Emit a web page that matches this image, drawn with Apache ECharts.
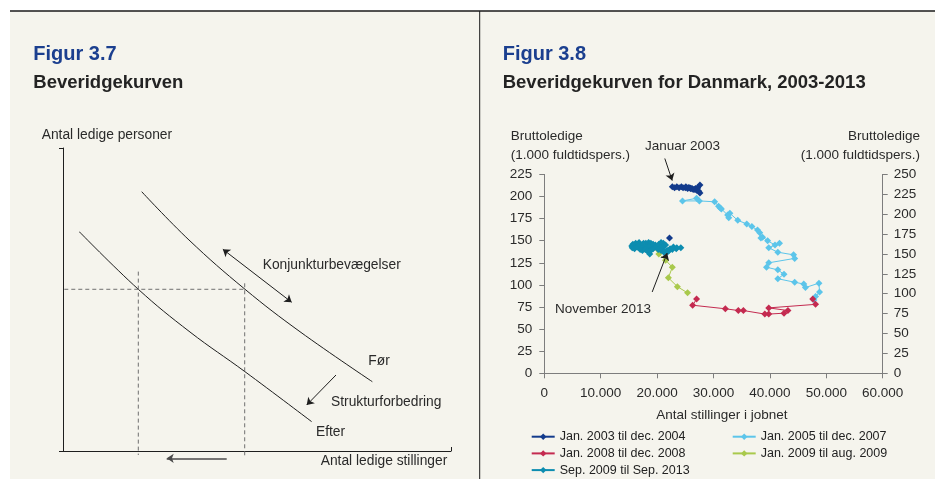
<!DOCTYPE html>
<html><head><meta charset="utf-8">
<script src="https://cdn.jsdelivr.net/npm/echarts@6/dist/echarts.min.js"></script>
<style>html,body{margin:0;padding:0;background:#fff}#c{width:935px;height:479px}</style>
</head><body><div id="c"></div>
<script>
// ---------- Figur 3.8 data (x: Antal stillinger i jobnet, y: Bruttoledige 1.000) ----------
const seriesNames = ['Jan. 2003 til dec. 2004','Jan. 2005 til dec. 2007','Jan. 2008 til dec. 2008','Jan. 2009 til aug. 2009','Sep. 2009 til Sep. 2013'];
const seriesColors = ['#133b8c','#5cc5ea','#c42a50','#a9c94c','#0d8db0'];
const xTicks = [0,10000,20000,30000,40000,50000,60000];
const leftTicks = [0,25,50,75,100,125,150,175,200,225];
const rightTicks = [0,25,50,75,100,125,150,175,200,225,250];

const s2003_2004 = [[22700,211],[23100,210],[23500,211],[23900,210],[24300,211],[24600,210],[25000,210],[25400,209],[25800,210],[26200,209],[25900,209],[25500,210],[25100,211],[25600,210],[26000,209],[26400,208],[26800,209],[27200,210],[27600,213],[27100,209],[26700,208],[27000,207],[27400,206],[27600,204]];
const s2005_2007 = [[27000,198],[24500,195],[27500,195],[30200,194],[30900,189],[31200,187],[31400,186],[32500,179],[32700,176],[32900,181],[34300,173],[35900,169],[36800,166],[37800,162],[38200,159],[38700,154],[38400,153],[39600,150],[40900,145],[41700,147],[39800,142],[41400,137],[44200,134],[44400,130],[39800,125],[39400,120],[41400,117],[42500,112],[41400,107],[44400,103],[46000,101],[46300,97],[48700,102],[48800,92],[48100,87],[47800,83]];
const s2008 = [[47600,84],[48100,78],[39800,74],[43200,71],[42500,68],[39800,67],[39100,67],[35300,71],[34400,71],[32100,73],[26300,77],[27000,84]];
const s2009 = [[25400,91],[23600,98],[22000,108],[22700,120],[21500,128],[20300,135],[19400,142],[18500,146]];
const s2009_2013 = [[18500,146],[17600,147],[16800,148],[16200,147],[15700,146],[15500,144],[15600,142],[16000,141],[16500,143],[17000,145],[17500,146],[18000,147],[18500,148],[18900,147],[19300,146],[19700,145],[19200,144],[18600,143],[18000,142],[17400,141],[17000,140],[17400,139],[17900,140],[18300,138],[18700,135],[18900,139],[19300,141],[19800,143],[20300,146],[20700,148],[21100,147],[21500,145],[21000,143],[20600,142],[20200,140],[20700,139],[21300,138],[21800,139],[22300,141],[22900,143],[23500,142],[24200,142],[23400,141],[22700,140],[22100,139],[21600,138],[21200,137],[21700,137],[22000,138]];
const extraPoint = [[22200,153]];
const arrowJanuar = [[21365,243],[22680,218]];
const arrowNovember = [[19130,92],[21790,136]];

// ---------- Figur 3.7 schematic (units 0-100) ----------
const curveFor = [[20.28,85.58],[32.47,69.64],[46.91,53.37],[61.08,39.37],[79.72,22.87]];
const curveEfter = [[4.2,72.38],[19.41,53.37],[32.73,39.27],[46.91,26.17],[64.1,9.67]];
const dashH = [[-1.47,53.37],[46.91,53.37]];
const dashV1 = [[19.41,59.2],[19.41,-1.32]];
const dashV2 = [[46.83,55.35],[46.83,-2.41]];
const arrowKonj = [[41.2,66.57],[58.94,49.08]];
const arrowStruktur = [[70.36,25.08],[62.81,15.18]];
const arrowBottom = [[42.19,-2.41],[26.73,-2.41]];

const FF = '"Liberation Sans", Arial, Helvetica, sans-serif';
const fmt = v => v === 0 ? '0' : String(v).replace(/\B(?=(\d{3})+(?!\d))/g, '.');

function txt(x, y, s, opt) {
  return Object.assign({type:'text', left:null, x:x, y:y, silent:true,
    style:Object.assign({text:s, fill:'#2a2a2a', font:'13.5px ' + FF, textVerticalAlign:'middle', textAlign:'left'}, opt||{})});
}

const chart = echarts.init(document.getElementById('c'), null, {renderer:'canvas'});

const seriesData = [s2003_2004, s2005_2007, s2008, s2009, s2009_2013];
const mainSeries = seriesData.map((d, i) => ({
  name: seriesNames[i], type:'line', xAxisIndex:1, yAxisIndex:1, data:d,
  symbol:'diamond', symbolSize:7, showSymbol:true, clip:false,
  lineStyle:{color:seriesColors[i], width:1}, itemStyle:{color:seriesColors[i]}, z:3 + i
}));

function schemLine(data, dashed, extra) {
  return Object.assign({type:'line', xAxisIndex:0, yAxisIndex:0, data:data, symbol:'none', clip:false, silent:true,
    lineStyle:{color: dashed ? '#6f6f6f' : '#1e1e1e', width:1, type: dashed ? [4,3] : 'solid'}}, extra||{});
}
function arrow(coords, sym, axisIdx, color, width) {
  return {type:'lines', coordinateSystem:'cartesian2d', xAxisIndex:axisIdx, yAxisIndex:axisIdx, clip:false, silent:true,
    symbol:sym, symbolSize:7, lineStyle:{color:color, width:width, opacity:1, curveness:0},
    data:[{coords:coords}], z:10};
}

chart.setOption({
  animation:false,
  backgroundColor:'#ffffff',
  textStyle:{fontFamily:FF},
  grid:[
    {left:63, top:148, width:388, height:303},
    {left:544.3, right:52.3, top:174.4, bottom:105.7}
  ],
  xAxis:[
    {gridIndex:0, type:'value', min:0, max:100, interval:100,
      axisLine:{show:true, onZero:false, lineStyle:{color:'#1e1e1e', width:1}},
      axisTick:{show:true, inside:true, length:4, lineStyle:{color:'#1e1e1e'}},
      axisLabel:{show:false}, splitLine:{show:false}},
    {gridIndex:1, type:'value', min:xTicks[0], max:xTicks[xTicks.length-1], interval:xTicks[1]-xTicks[0],
      axisLine:{show:true, onZero:false, lineStyle:{color:'#7d7d7d', width:1}},
      axisTick:{show:true, length:5, lineStyle:{color:'#7d7d7d'}},
      axisLabel:{show:true, color:'#2a2a2a', fontSize:13.5, fontFamily:FF, margin:13, formatter:fmt, showMinLabel:true, showMaxLabel:true},
      splitLine:{show:false}}
  ],
  yAxis:[
    {gridIndex:0, type:'value', min:0, max:100, interval:100,
      axisLine:{show:true, onZero:false, lineStyle:{color:'#1e1e1e', width:1}},
      axisTick:{show:true, inside:false, length:4, lineStyle:{color:'#1e1e1e'}},
      axisLabel:{show:false}, splitLine:{show:false}},
    {gridIndex:1, type:'value', position:'left', min:leftTicks[0], max:leftTicks[leftTicks.length-1], interval:leftTicks[1]-leftTicks[0],
      axisLine:{show:true, onZero:false, lineStyle:{color:'#7d7d7d', width:1}},
      axisTick:{show:true, length:5, lineStyle:{color:'#7d7d7d'}},
      axisLabel:{color:'#2a2a2a', fontSize:13.5, fontFamily:FF, margin:12},
      splitLine:{show:false}},
    {gridIndex:1, type:'value', position:'right', min:rightTicks[0], max:rightTicks[rightTicks.length-1], interval:rightTicks[1]-rightTicks[0],
      axisLine:{show:true, onZero:false, lineStyle:{color:'#7d7d7d', width:1}},
      axisTick:{show:true, length:5, lineStyle:{color:'#7d7d7d'}},
      axisLabel:{color:'#2a2a2a', fontSize:13.5, fontFamily:FF, margin:11},
      splitLine:{show:false}}
  ],
  legend:[
    {data:[seriesNames[0], seriesNames[2], seriesNames[4]], orient:'vertical', left:530.7, top:429.7,
      itemWidth:23, itemHeight:8, itemGap:2.7, selectedMode:false, padding:0,
      textStyle:{fontSize:12.5, color:'#222', fontFamily:FF, lineHeight:14}},
    {data:[seriesNames[1], seriesNames[3]], orient:'vertical', left:731.7, top:429.7,
      itemWidth:23, itemHeight:8, itemGap:2.7, selectedMode:false, padding:0,
      textStyle:{fontSize:12.5, color:'#222', fontFamily:FF, lineHeight:14}}
  ],
  graphic:[
    {type:'rect', shape:{x:10, y:11, width:925, height:468}, style:{fill:'#f5f4ed'}, silent:true, z:-10},
    {type:'line', shape:{x1:10, y1:11, x2:935, y2:11}, style:{stroke:'#1a1a1a', lineWidth:1.5}, silent:true},
    {type:'line', shape:{x1:479.7, y1:11, x2:479.7, y2:479}, style:{stroke:'#1a1a1a', lineWidth:1}, silent:true},
    txt(33.3, 54.5, 'Figur 3.7', {fill:'#1b3f8f', font:'bold 20px ' + FF}),
    txt(33.3, 82.7, 'Beveridgekurven', {fill:'#232323', font:'bold 18.5px ' + FF}),
    txt(502.7, 54.5, 'Figur 3.8', {fill:'#1b3f8f', font:'bold 20px ' + FF}),
    txt(502.7, 82.7, 'Beveridgekurven for Danmark, 2003-2013', {fill:'#232323', font:'bold 18.5px ' + FF}),
    txt(41.7, 135.5, 'Antal ledige personer', {font:'13.8px ' + FF}),
    txt(262.7, 264.7, 'Konjunkturbevægelser', {font:'13.8px ' + FF}),
    txt(368.3, 361.3, 'Før', {font:'13.8px ' + FF}),
    txt(331, 402, 'Strukturforbedring', {font:'13.8px ' + FF}),
    txt(316, 432, 'Efter', {font:'13.8px ' + FF}),
    txt(320.7, 461, 'Antal ledige stillinger', {font:'13.8px ' + FF}),
    txt(510.7, 136.3, 'Bruttoledige'),
    txt(510.7, 155.3, '(1.000 fuldtidspers.)'),
    txt(920, 136.3, 'Bruttoledige', {textAlign:'right'}),
    txt(920, 155.3, '(1.000 fuldtidspers.)', {textAlign:'right'}),
    txt(645, 146, 'Januar 2003'),
    txt(555, 309.3, 'November 2013'),
    txt(721.8, 415, 'Antal stillinger i jobnet', {textAlign:'center'})
  ],
  series:[
    schemLine(curveFor, false, {smooth:0.4}),
    schemLine(curveEfter, false, {smooth:0.4}),
    schemLine(dashH, true),
    schemLine(dashV1, true),
    schemLine(dashV2, true),
    arrow(arrowKonj, ['arrow','arrow'], 0, '#1e1e1e', 1),
    arrow(arrowStruktur, ['none','arrow'], 0, '#1e1e1e', 1),
    arrow(arrowBottom, ['none','arrow'], 0, '#4a4a4a', 1.6),
    ...mainSeries,
    {type:'line', xAxisIndex:1, yAxisIndex:1, data:extraPoint, symbol:'diamond', symbolSize:7, showSymbol:true,
      lineStyle:{width:0}, itemStyle:{color:seriesColors[0]}, z:9, silent:true},
    arrow(arrowJanuar, ['none','arrow'], 1, '#1e1e1e', 1),
    arrow(arrowNovember, ['none','arrow'], 1, '#1e1e1e', 1)
  ]
});
</script></body></html>
